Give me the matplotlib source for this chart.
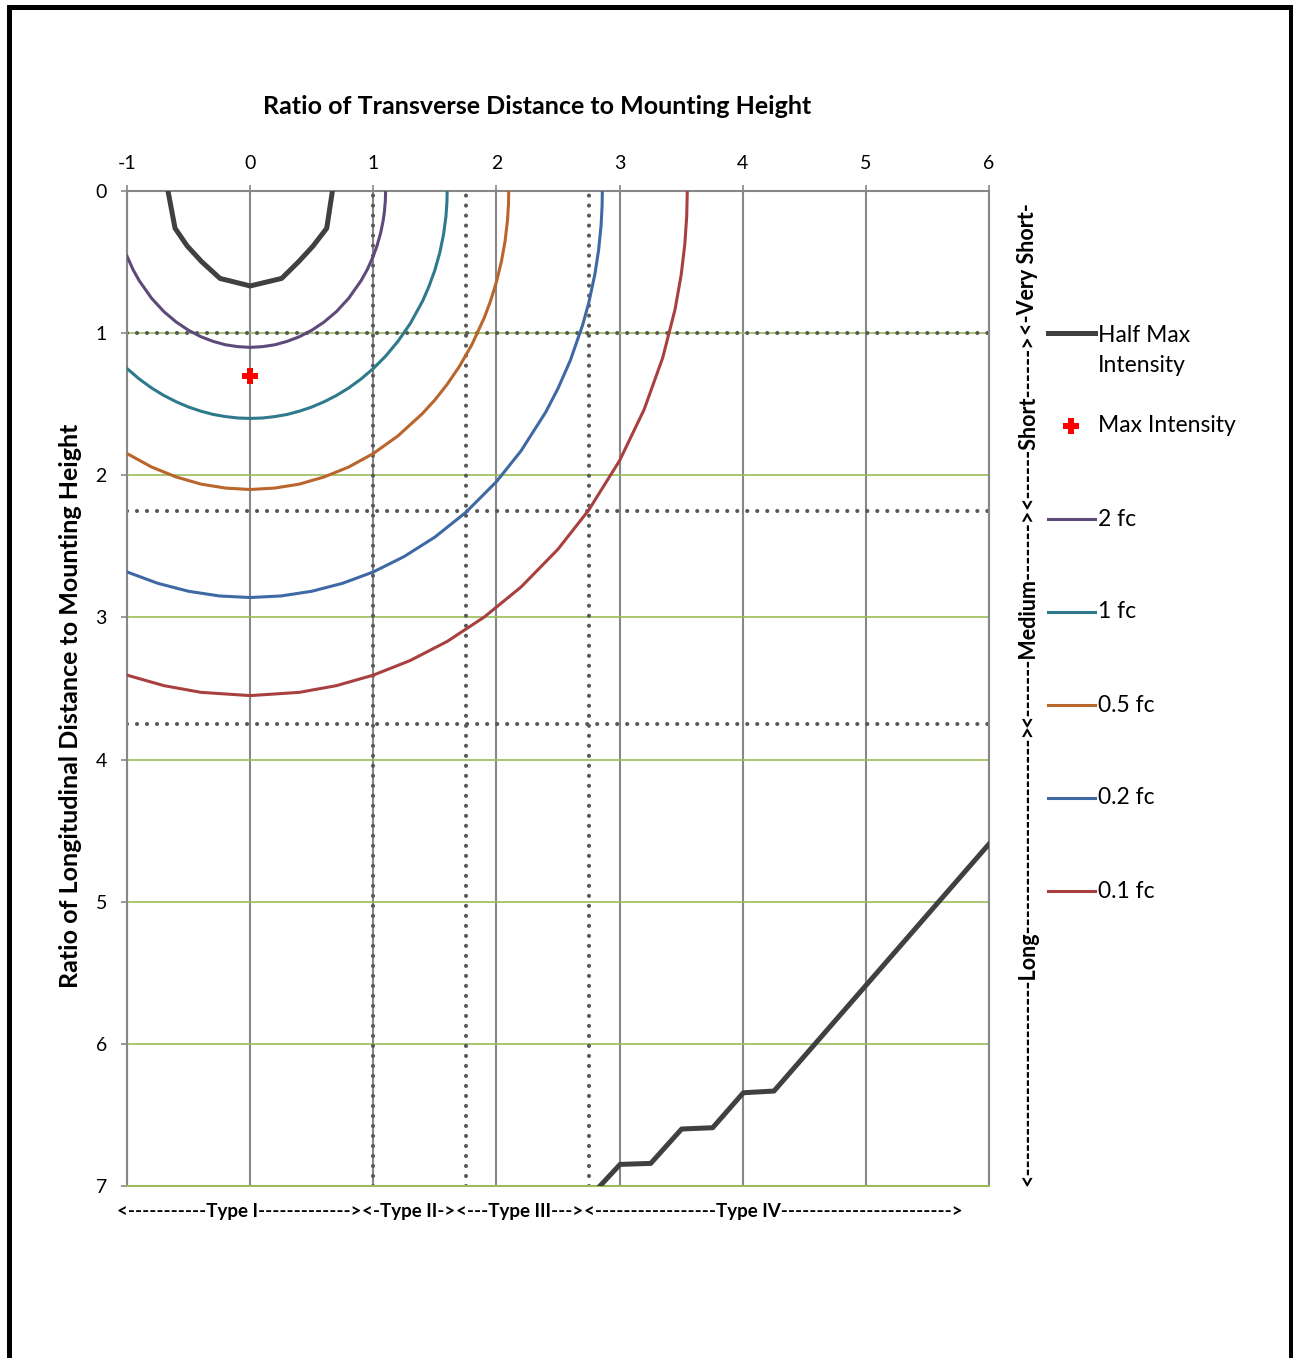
# -*- coding: utf-8 -*-
import matplotlib
matplotlib.use('Agg')  # no display here
import matplotlib.pyplot as plt
from matplotlib.lines import Line2D
from matplotlib.patches import Rectangle
from matplotlib.transforms import blended_transform_factory

# Iso-footcandle lines
# x = transverse distance / mounting height, y = longitudinal distance / mounting height
fc2_x = [-1.0, -0.95, -0.9, -0.8, -0.7, -0.6, -0.5, -0.4, -0.3, -0.2, -0.1, 0.0,
         0.1, 0.2, 0.3, 0.4, 0.5, 0.6, 0.7, 0.8, 0.9, 0.95, 1.0, 1.03, 1.06, 1.08, 1.09, 1.098, 1.1]
fc2_y = [0.458, 0.555, 0.632, 0.755, 0.849, 0.922, 0.980, 1.025, 1.058, 1.082, 1.095, 1.10,
         1.095, 1.082, 1.058, 1.025, 0.980, 0.922, 0.849, 0.755, 0.632, 0.555, 0.458, 0.386, 0.294, 0.209, 0.148, 0.066, 0.0]

fc1_x = [-1.0, -0.9, -0.8, -0.7, -0.6, -0.5, -0.4, -0.3, -0.2, -0.1, 0.0,
         0.1, 0.2, 0.3, 0.4, 0.5, 0.6, 0.7, 0.8, 0.9, 1.0, 1.1, 1.2, 1.3, 1.4, 1.45, 1.5,
         1.54, 1.57, 1.59, 1.598, 1.6]
fc1_y = [1.249, 1.323, 1.386, 1.439, 1.483, 1.520, 1.549, 1.572, 1.587, 1.597, 1.60,
         1.597, 1.587, 1.572, 1.549, 1.520, 1.483, 1.439, 1.386, 1.323, 1.249, 1.162, 1.058, 0.933, 0.775, 0.676, 0.557,
         0.434, 0.308, 0.179, 0.08, 0.0]

fc05_x = [-1.0, -0.8, -0.6, -0.4, -0.2, 0.0, 0.2, 0.4, 0.6, 0.8, 1.0, 1.2, 1.4, 1.5, 1.6, 1.7,
          1.8, 1.9, 1.95, 2.0, 2.04, 2.07, 2.09, 2.098, 2.1]
fc05_y = [1.847, 1.942, 2.012, 2.062, 2.090, 2.10, 2.090, 2.062, 2.012, 1.942, 1.847, 1.723, 1.565, 1.470, 1.360, 1.233,
          1.082, 0.894, 0.779, 0.640, 0.498, 0.354, 0.205, 0.092, 0.0]

fc02_x = [-1.0, -0.75, -0.5, -0.25, 0.0, 0.25, 0.5, 0.75, 1.0, 1.25, 1.5, 1.75, 2.0, 2.2, 2.4, 2.5,
          2.6, 2.7, 2.75, 2.8, 2.83, 2.85, 2.858, 2.86]
fc02_y = [2.680, 2.760, 2.816, 2.849, 2.86, 2.849, 2.816, 2.760, 2.680, 2.572, 2.435, 2.262, 2.045, 1.828, 1.556, 1.389,
          1.192, 0.943, 0.786, 0.583, 0.414, 0.240, 0.108, 0.0]

fc01_x = [-1.0, -0.7, -0.4, 0.0, 0.4, 0.7, 1.0, 1.3, 1.6, 1.9, 2.2, 2.5, 2.75, 3.0, 3.2, 3.35,
          3.45, 3.5, 3.53, 3.545, 3.55]
fc01_y = [3.406, 3.480, 3.527, 3.55, 3.527, 3.480, 3.406, 3.303, 3.169, 2.998, 2.786, 2.520, 2.244, 1.897, 1.536, 1.174,
          0.835, 0.592, 0.373, 0.18, 0.0]

# Half max intensity trace: the lobe near the pole and the one at the far side
half_max_top_x = [-0.667, -0.61, -0.511, -0.394, -0.245, 0.0, 0.256, 0.394, 0.511, 0.622, 0.668]
half_max_top_y = [0.0, 0.262, 0.387, 0.497, 0.615, 0.668, 0.615, 0.497, 0.387, 0.262, 0.0]
half_max_far_x = [2.841, 3.004, 3.253, 3.504, 3.756, 4.005, 4.254, 6.0]
half_max_far_y = [7.0, 6.848, 6.841, 6.599, 6.590, 6.344, 6.332, 4.594]

max_intensity_x = [0.0]
max_intensity_y = [1.3]

# Lateral type and longitudinal length boundaries
type_bounds = [1.0, 1.75, 2.75]
length_bounds = [1.0, 2.25, 3.75]

type_labels = ['<' + '-' * 11 + 'Type I' + '-' * 13 + '>',
               '<-Type II->',
               '<---Type III--->',
               '<' + '-' * 17 + 'Type IV' + '-' * 24 + '>']
type_label_x = [-0.085, 1.285, 2.19, 4.25]

length_labels = ['<-Very Short-',
                 '<' + '-' * 6 + 'Short' + '-' * 6 + '>',
                 '<' + '-' * 7 + 'Medium' + '-' * 7 + '>',
                 '<' + '-' * 24 + 'Long' + '-' * 24 + '>']
length_label_y = [0.55, 1.625, 3.0, 5.375]

x_ticks = [-1, 0, 1, 2, 3, 4, 5, 6]
y_ticks = [0, 1, 2, 3, 4, 5, 6, 7]

series = [
    ('2 fc', fc2_x, fc2_y, '#5E4A7A'),
    ('1 fc', fc1_x, fc1_y, '#2E7A8C'),
    ('0.5 fc', fc05_x, fc05_y, '#B9652B'),
    ('0.2 fc', fc02_x, fc02_y, '#3E69A3'),
    ('0.1 fc', fc01_x, fc01_y, '#A8403F'),
]

W, H = 1293, 1358
FONT = ['Lato', 'DejaVu Sans']
GRAY = '#878787'
GREEN = '#9BBB59'
DOTS = '#595959'
HALF = '#404040'

plt.rcParams['font.family'] = FONT
plt.rcParams['axes.unicode_minus'] = False  # the original uses a plain hyphen on -1

fig = plt.figure(figsize=(W / 100., H / 100.), dpi=100)
ax = fig.add_axes([127. / W, 1 - 1186. / H, 862. / W, 995. / H])

ax.set_xlim(-1, 6)
ax.set_ylim(7, 0)
ax.set_xticks(x_ticks)
ax.set_yticks(y_ticks)
ax.xaxis.tick_top()
ax.tick_params(axis='both', length=4.5, width=1.2, color=GRAY, labelsize=14, labelcolor='black')
ax.tick_params(axis='x', pad=9)
ax.tick_params(axis='y', pad=10)

# grid: gray verticals, green horizontals
ax.set_axisbelow(True)
ax.grid(axis='x', color=GRAY, linewidth=1.5)
ax.grid(axis='y', color=GREEN, linewidth=1.2)
for side in ['top', 'left', 'right']:
    ax.spines[side].set_color(GRAY)
    ax.spines[side].set_linewidth(1.5)
ax.spines['bottom'].set_color(GREEN)
ax.spines['bottom'].set_linewidth(1.5)

# dotted classification boundaries
dot_style = dict(color=DOTS, linewidth=3.0, linestyle=(0, (0.001, 2.4)),
                 dash_capstyle='round', zorder=2)
for b in type_bounds:
    ax.axvline(b, **dot_style)
for b in length_bounds:
    ax.axhline(b, **dot_style)

# curves
for label, xs, ys, color in series:
    ax.plot(xs, ys, color=color, linewidth=2.2, zorder=3, solid_joinstyle='round')
ax.plot(half_max_top_x, half_max_top_y, color=HALF, linewidth=3.6, zorder=3)
ax.plot(half_max_far_x, half_max_far_y, color=HALF, linewidth=3.6, zorder=3)
ax.plot(max_intensity_x, max_intensity_y, linestyle='none', marker='P', markersize=12,
        color='#FF0000', markeredgewidth=0, zorder=4)

# titles
fig.text(537. / W, 1 - 106. / H, 'Ratio of Transverse Distance to Mounting Height',
         ha='center', va='center', fontsize=18, fontweight='bold')
ax.set_ylabel('Ratio of Longitudinal Distance to Mounting Height', fontsize=18, fontweight='bold')
ax.yaxis.set_label_coords(-0.052, 0.483)

# type labels under the plot, length labels on the right
below = blended_transform_factory(ax.transData, ax.transAxes)
for text, x in zip(type_labels, type_label_x):
    ax.text(x, -25. / 995, text, transform=below, ha='center', va='center',
            fontsize=13.5, fontweight='bold')
side = blended_transform_factory(ax.transAxes, ax.transData)
for text, y in zip(length_labels, length_label_y):
    ax.text(1.0452, y, text, transform=side, rotation=90, rotation_mode='anchor',
            ha='center', va='center', fontsize=15.5, fontweight='bold')


# legend, laid out by hand like the original
def fx(px):
    return px / float(W)


def fy(py):
    return 1 - py / float(H)


legend_rows = [333, 426, 519, 612, 705, 798, 891]
fig.add_artist(Line2D([fx(1048), fx(1095)], [fy(legend_rows[0])] * 2, color=HALF, linewidth=3.6))
fig.text(fx(1098), fy(legend_rows[0] - 8), 'Half Max\nIntensity', ha='left', va='top',
         fontsize=16.5, linespacing=1.5)
fig.add_artist(Line2D([fx(1071)], [fy(legend_rows[1])], marker='P', markersize=12,
                      color='#FF0000', markeredgewidth=0, linestyle='none'))
fig.text(fx(1098), fy(legend_rows[1]), 'Max Intensity', ha='left', va='center', fontsize=16.5)
for (label, xs, ys, color), row in zip(series, legend_rows[2:]):
    fig.add_artist(Line2D([fx(1048), fx(1095)], [fy(row)] * 2, color=color, linewidth=2.2))
    fig.text(fx(1098), fy(row), label, ha='left', va='center', fontsize=16.5)

# black frame round the figure (open at the bottom edge of the picture)
fig.add_artist(Rectangle((fx(8.5), -0.05), fx(1290.5) - fx(8.5), fy(6.5) + 0.05,
                         transform=fig.transFigure, fill=False, edgecolor='black',
                         linewidth=3.6, clip_on=False))

fig.savefig('out.png', dpi=100)
